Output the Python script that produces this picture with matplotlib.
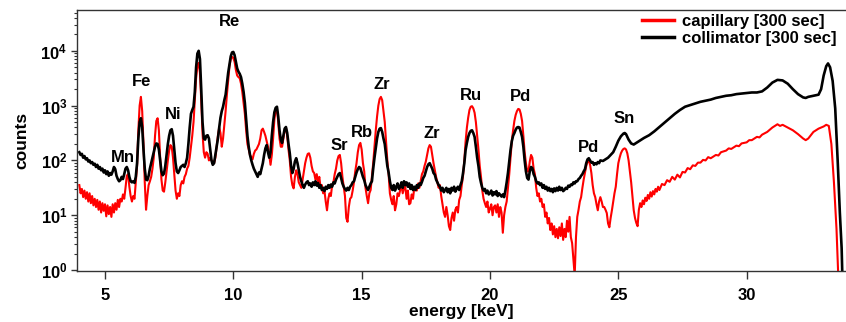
import numpy as np
import matplotlib
matplotlib.use("Agg")
import matplotlib.pyplot as plt
from matplotlib import ticker

# spectra: (energy keV, log10 counts)
capillary = [
    (4.00, 1.55), (4.05, 1.40), (4.10, 1.48), (4.15, 1.33), (4.20, 1.45), (4.25, 1.30), (4.30, 1.42), (4.35, 1.25),
    (4.40, 1.40), (4.45, 1.22), (4.50, 1.35), (4.55, 1.18), (4.60, 1.30), (4.65, 1.15), (4.70, 1.28), (4.75, 1.10),
    (4.80, 1.25), (4.85, 1.05), (4.90, 1.22), (4.95, 1.08), (5.00, 1.20), (5.05, 0.98), (5.10, 1.18), (5.15, 1.02),
    (5.20, 1.15), (5.25, 0.97), (5.30, 1.20), (5.35, 1.05), (5.40, 1.22), (5.45, 1.10), (5.50, 1.28), (5.55, 1.15),
    (5.60, 1.30), (5.65, 1.25), (5.70, 1.38), (5.75, 1.30), (5.80, 1.50), (5.85, 1.72), (5.90, 1.75), (5.95, 1.52),
    (6.00, 1.35), (6.05, 1.25), (6.10, 1.35), (6.15, 1.30), (6.20, 1.60), (6.25, 1.90), (6.30, 2.55), (6.35, 3.00),
    (6.40, 3.16), (6.45, 2.90), (6.50, 2.30), (6.55, 1.60), (6.60, 1.10), (6.65, 1.35), (6.70, 1.55), (6.75, 1.62),
    (6.80, 1.70), (6.85, 1.85), (6.90, 2.05), (6.95, 2.45), (7.00, 2.72), (7.05, 2.77), (7.10, 2.55), (7.15, 2.05),
    (7.20, 1.65), (7.25, 1.45), (7.30, 1.43), (7.35, 1.60), (7.40, 1.80), (7.45, 2.00), (7.50, 2.18), (7.55, 2.28),
    (7.60, 2.25), (7.65, 2.05), (7.70, 1.75), (7.75, 1.45), (7.80, 1.30), (7.85, 1.40), (7.90, 1.35), (7.95, 1.55),
    (8.00, 1.62), (8.05, 1.58), (8.10, 1.70), (8.15, 1.75), (8.20, 1.85), (8.25, 1.90), (8.30, 2.05), (8.35, 2.25),
    (8.40, 2.45), (8.45, 2.70), (8.50, 3.10), (8.55, 3.50), (8.60, 3.72), (8.65, 3.78), (8.70, 3.60), (8.75, 3.10),
    (8.80, 2.50), (8.85, 2.15), (8.90, 2.05), (8.95, 2.15), (9.00, 2.12), (9.05, 2.00), (9.10, 2.05), (9.15, 2.00),
    (9.20, 1.98), (9.25, 1.95), (9.30, 2.05), (9.35, 2.25), (9.40, 2.45), (9.45, 2.60), (9.50, 2.50), (9.55, 2.25),
    (9.60, 2.40), (9.65, 2.65), (9.70, 2.90), (9.75, 3.20), (9.80, 3.45), (9.85, 3.72), (9.90, 3.85), (9.95, 3.89),
    (10.00, 3.87), (10.05, 3.80), (10.10, 3.65), (10.15, 3.55), (10.20, 3.52), (10.25, 3.50), (10.30, 3.40),
    (10.35, 3.25), (10.40, 3.05), (10.45, 2.85), (10.50, 2.55), (10.55, 2.30), (10.60, 2.20), (10.65, 2.10),
    (10.70, 2.06), (10.75, 2.02), (10.80, 2.12), (10.85, 2.18), (10.90, 2.20), (10.95, 2.25), (11.00, 2.30),
    (11.05, 2.40), (11.10, 2.55), (11.15, 2.58), (11.20, 2.52), (11.25, 2.45), (11.30, 2.35), (11.35, 2.25),
    (11.40, 2.10), (11.45, 1.92), (11.50, 2.10), (11.55, 2.40), (11.60, 2.75), (11.65, 2.92), (11.70, 2.95),
    (11.75, 2.70), (11.80, 2.40), (11.85, 2.25), (11.90, 2.25), (11.95, 2.40), (12.00, 2.55), (12.05, 2.60),
    (12.10, 2.45), (12.15, 2.20), (12.20, 2.00), (12.25, 1.70), (12.30, 1.55), (12.35, 1.49), (12.40, 1.70),
    (12.45, 1.82), (12.50, 1.75), (12.55, 1.60), (12.60, 1.55), (12.65, 1.50), (12.70, 1.65), (12.75, 1.80),
    (12.80, 1.95), (12.85, 2.05), (12.90, 2.12), (12.95, 2.13), (13.00, 2.05), (13.05, 1.90), (13.10, 1.80),
    (13.15, 1.77), (13.20, 1.65), (13.25, 1.75), (13.30, 1.60), (13.35, 1.70), (13.40, 1.50), (13.45, 1.55),
    (13.50, 1.40), (13.55, 1.45), (13.60, 1.25), (13.65, 1.09), (13.70, 1.30), (13.75, 1.40), (13.80, 1.35),
    (13.85, 1.55), (13.90, 1.60), (13.95, 1.75), (14.00, 1.85), (14.05, 2.00), (14.10, 2.08), (14.15, 2.10),
    (14.20, 1.95), (14.25, 1.70), (14.30, 1.52), (14.35, 1.35), (14.40, 0.95), (14.45, 0.88), (14.50, 1.15),
    (14.55, 1.30), (14.60, 1.33), (14.65, 1.45), (14.70, 1.60), (14.75, 1.80), (14.80, 1.95), (14.85, 2.15),
    (14.90, 2.28), (14.95, 2.32), (15.00, 2.20), (15.05, 1.95), (15.10, 1.80), (15.15, 1.50), (15.20, 1.35),
    (15.25, 1.22), (15.30, 1.40), (15.35, 1.46), (15.40, 1.70), (15.45, 1.95), (15.50, 2.25), (15.55, 2.55),
    (15.60, 2.80), (15.65, 3.00), (15.70, 3.12), (15.75, 3.16), (15.80, 3.10), (15.85, 2.90), (15.90, 2.70),
    (15.95, 2.35), (16.00, 2.00), (16.05, 1.75), (16.10, 1.40), (16.15, 1.28), (16.20, 1.20), (16.25, 1.35),
    (16.30, 1.09), (16.35, 1.20), (16.40, 1.40), (16.45, 1.35), (16.50, 1.46), (16.55, 1.55), (16.60, 1.40),
    (16.65, 1.50), (16.70, 1.52), (16.75, 1.30), (16.80, 1.45), (16.85, 1.20), (16.90, 1.22), (16.95, 1.38),
    (17.00, 1.30), (17.05, 1.50), (17.10, 1.46), (17.15, 1.45), (17.20, 1.58), (17.25, 1.50), (17.30, 1.62),
    (17.35, 1.75), (17.40, 1.80), (17.45, 1.90), (17.50, 1.98), (17.55, 2.10), (17.60, 2.22), (17.65, 2.28),
    (17.70, 2.25), (17.75, 2.10), (17.80, 1.95), (17.85, 1.82), (17.90, 1.70), (17.95, 1.60), (18.00, 1.50),
    (18.05, 1.55), (18.10, 1.35), (18.15, 1.20), (18.20, 1.05), (18.25, 0.97), (18.30, 1.15), (18.35, 1.00),
    (18.40, 0.80), (18.45, 0.73), (18.50, 0.95), (18.55, 1.05), (18.60, 0.90), (18.65, 1.10), (18.70, 1.15),
    (18.75, 1.05), (18.80, 1.28), (18.85, 1.35), (18.90, 1.55), (18.95, 1.72), (19.00, 2.00), (19.05, 2.35),
    (19.10, 2.60), (19.15, 2.78), (19.20, 2.92), (19.25, 2.98), (19.30, 2.99), (19.35, 2.95), (19.40, 2.87),
    (19.45, 2.70), (19.50, 2.45), (19.55, 2.20), (19.60, 1.90), (19.65, 1.70), (19.70, 1.45), (19.75, 1.30),
    (19.80, 1.22), (19.85, 1.15), (19.90, 1.25), (19.95, 1.05), (20.00, 1.12), (20.05, 1.20), (20.10, 1.00),
    (20.15, 1.15), (20.20, 1.18), (20.25, 1.05), (20.30, 1.20), (20.35, 0.97), (20.40, 1.15), (20.45, 1.05),
    (20.50, 0.68), (20.55, 1.00), (20.60, 1.15), (20.65, 1.25), (20.70, 1.50), (20.75, 1.75), (20.80, 2.05),
    (20.85, 2.35), (20.90, 2.55), (20.95, 2.72), (21.00, 2.83), (21.05, 2.90), (21.10, 2.94), (21.15, 2.93),
    (21.20, 2.85), (21.25, 2.72), (21.30, 2.45), (21.35, 2.15), (21.40, 1.95), (21.45, 1.80), (21.50, 1.80),
    (21.55, 1.98), (21.60, 2.10), (21.65, 2.05), (21.70, 1.85), (21.75, 1.75), (21.80, 1.50), (21.85, 1.35),
    (21.90, 1.40), (21.95, 1.25), (22.00, 1.30), (22.05, 1.15), (22.10, 1.20), (22.15, 0.97), (22.20, 1.05),
    (22.25, 0.85), (22.30, 0.95), (22.35, 0.73), (22.40, 0.85), (22.45, 0.65), (22.50, 0.80), (22.55, 0.60),
    (22.60, 0.75), (22.65, 0.58), (22.70, 0.78), (22.75, 0.62), (22.80, 0.85), (22.85, 0.55), (22.90, 0.75),
    (22.95, 0.60), (23.00, 0.90), (23.05, 0.70), (23.10, 0.97), (23.15, 0.60), (23.20, 0.49), (23.25, 0.20),
    (23.30, -0.10), (23.35, 0.60), (23.40, 0.97), (23.45, 1.10), (23.50, 1.25), (23.55, 1.33), (23.60, 1.50),
    (23.65, 1.65), (23.70, 1.77), (23.75, 1.90), (23.80, 1.98), (23.85, 2.00), (23.90, 1.92), (23.95, 1.77),
    (24.00, 1.55), (24.05, 1.40), (24.10, 1.33), (24.15, 1.20), (24.20, 1.09), (24.25, 1.25), (24.30, 1.33),
    (24.35, 1.25), (24.40, 1.15), (24.45, 1.15), (24.50, 1.10), (24.55, 1.04), (24.60, 0.85), (24.65, 0.78),
    (24.70, 0.95), (24.75, 1.09), (24.80, 1.25), (24.85, 1.40), (24.90, 1.52), (24.95, 1.75), (25.00, 1.95),
    (25.05, 2.05), (25.10, 2.13), (25.15, 2.18), (25.20, 2.21), (25.25, 2.22), (25.30, 2.20), (25.35, 2.13),
    (25.40, 2.00), (25.45, 1.80), (25.50, 1.60), (25.55, 1.35), (25.60, 1.09), (25.65, 0.95), (25.70, 0.86),
    (25.75, 0.80), (25.80, 1.10), (25.85, 1.22), (25.90, 1.15), (25.95, 1.27), (26.00, 1.20), (26.05, 1.32),
    (26.10, 1.26), (26.15, 1.37), (26.20, 1.30), (26.25, 1.42), (26.30, 1.34), (26.35, 1.44), (26.40, 1.38),
    (26.45, 1.48), (26.50, 1.43), (26.55, 1.52), (26.60, 1.46), (26.70, 1.57), (26.80, 1.55), (26.90, 1.64),
    (27.00, 1.61), (27.10, 1.70), (27.20, 1.65), (27.30, 1.74), (27.40, 1.69), (27.50, 1.79), (27.60, 1.78),
    (27.70, 1.86), (27.80, 1.84), (27.90, 1.91), (28.00, 1.90), (28.10, 1.96), (28.20, 1.96), (28.30, 2.01),
    (28.40, 2.00), (28.50, 2.06), (28.60, 2.04), (28.80, 2.10), (28.90, 2.09), (29.00, 2.15), (29.20, 2.18),
    (29.30, 2.22), (29.40, 2.21), (29.60, 2.27), (29.70, 2.26), (29.80, 2.31), (30.00, 2.33), (30.10, 2.37),
    (30.20, 2.37), (30.40, 2.43), (30.50, 2.42), (30.60, 2.47), (30.80, 2.52), (31.00, 2.60), (31.20, 2.66),
    (31.30, 2.63), (31.40, 2.65), (31.60, 2.60), (31.80, 2.55), (32.00, 2.48), (32.20, 2.40), (32.30, 2.37),
    (32.40, 2.40), (32.60, 2.52), (32.80, 2.58), (33.00, 2.62), (33.10, 2.65), (33.20, 2.63), (33.30, 2.30),
    (33.40, 1.60), (33.50, 0.75), (33.60, -0.50),
]

collimator = [
    (4.00, 2.15), (4.05, 2.10), (4.10, 2.12), (4.15, 2.05), (4.20, 2.08), (4.25, 2.02), (4.30, 2.04), (4.35, 1.98),
    (4.40, 2.00), (4.45, 1.95), (4.50, 1.97), (4.55, 1.92), (4.60, 1.94), (4.65, 1.88), (4.70, 1.92), (4.75, 1.85),
    (4.80, 1.88), (4.85, 1.82), (4.90, 1.85), (4.95, 1.78), (5.00, 1.82), (5.05, 1.75), (5.10, 1.80), (5.15, 1.72),
    (5.20, 1.77), (5.25, 1.74), (5.30, 1.80), (5.35, 1.88), (5.40, 1.84), (5.45, 1.72), (5.50, 1.66), (5.55, 1.62),
    (5.60, 1.64), (5.65, 1.70), (5.70, 1.66), (5.75, 1.75), (5.80, 1.85), (5.85, 1.88), (5.90, 1.82), (5.95, 1.70),
    (6.00, 1.62), (6.05, 1.60), (6.10, 1.62), (6.15, 1.59), (6.20, 1.70), (6.25, 1.95), (6.30, 2.40), (6.35, 2.70),
    (6.40, 2.77), (6.45, 2.60), (6.50, 2.20), (6.55, 1.85), (6.60, 1.65), (6.65, 1.64), (6.70, 1.72), (6.75, 1.85),
    (6.80, 1.95), (6.85, 2.05), (6.90, 2.15), (6.95, 2.25), (7.00, 2.31), (7.05, 2.30), (7.10, 2.20), (7.15, 2.00),
    (7.20, 1.80), (7.25, 1.73), (7.30, 1.76), (7.35, 1.90), (7.40, 2.10), (7.45, 2.30), (7.50, 2.45), (7.55, 2.55),
    (7.60, 2.57), (7.65, 2.45), (7.70, 2.20), (7.75, 1.95), (7.80, 1.80), (7.85, 1.77), (7.90, 1.82), (7.95, 1.88),
    (8.00, 1.90), (8.05, 1.92), (8.10, 1.88), (8.15, 1.95), (8.20, 2.05), (8.25, 2.30), (8.30, 2.60), (8.35, 2.85),
    (8.40, 2.92), (8.45, 2.98), (8.50, 3.25), (8.55, 3.70), (8.60, 3.95), (8.65, 4.00), (8.70, 3.85), (8.75, 3.30),
    (8.80, 2.70), (8.85, 2.40), (8.90, 2.38), (8.95, 2.45), (9.00, 2.46), (9.05, 2.40), (9.10, 2.20), (9.15, 2.00),
    (9.20, 1.92), (9.25, 1.95), (9.30, 2.10), (9.35, 2.25), (9.40, 2.40), (9.45, 2.60), (9.50, 2.78), (9.55, 2.90),
    (9.60, 2.98), (9.65, 3.10), (9.70, 3.20), (9.75, 3.40), (9.80, 3.60), (9.85, 3.75), (9.90, 3.90), (9.95, 3.97),
    (10.00, 3.98), (10.05, 3.92), (10.10, 3.80), (10.15, 3.68), (10.20, 3.62), (10.25, 3.58), (10.30, 3.52),
    (10.35, 3.40), (10.40, 3.25), (10.45, 3.05), (10.50, 2.75), (10.55, 2.45), (10.60, 2.25), (10.65, 2.10),
    (10.70, 2.00), (10.75, 1.92), (10.80, 1.85), (10.85, 1.80), (10.90, 1.75), (10.95, 1.70), (11.00, 1.78),
    (11.05, 1.75), (11.10, 1.85), (11.15, 1.95), (11.20, 2.10), (11.25, 2.22), (11.30, 2.28), (11.35, 2.15),
    (11.40, 2.05), (11.45, 2.15), (11.50, 2.45), (11.55, 2.70), (11.60, 2.88), (11.65, 2.96), (11.70, 2.98),
    (11.75, 2.80), (11.80, 2.55), (11.85, 2.38), (11.90, 2.32), (11.95, 2.45), (12.00, 2.58), (12.05, 2.61),
    (12.10, 2.50), (12.15, 2.30), (12.20, 2.13), (12.25, 1.90), (12.30, 1.77), (12.35, 1.85), (12.40, 1.98),
    (12.45, 2.04), (12.50, 1.95), (12.55, 1.82), (12.60, 1.70), (12.65, 1.62), (12.70, 1.55), (12.75, 1.50),
    (12.80, 1.56), (12.85, 1.60), (12.90, 1.62), (12.95, 1.55), (13.00, 1.58), (13.05, 1.52), (13.10, 1.60),
    (13.15, 1.55), (13.20, 1.62), (13.25, 1.54), (13.30, 1.59), (13.35, 1.50), (13.40, 1.55), (13.45, 1.46),
    (13.50, 1.50), (13.55, 1.44), (13.60, 1.52), (13.65, 1.48), (13.70, 1.55), (13.75, 1.50), (13.80, 1.56),
    (13.85, 1.52), (13.90, 1.60), (13.95, 1.58), (14.00, 1.65), (14.05, 1.70), (14.10, 1.75), (14.15, 1.77),
    (14.20, 1.68), (14.25, 1.58), (14.30, 1.52), (14.35, 1.48), (14.40, 1.45), (14.45, 1.50), (14.50, 1.46),
    (14.55, 1.52), (14.60, 1.55), (14.65, 1.60), (14.70, 1.62), (14.75, 1.70), (14.80, 1.78), (14.85, 1.84),
    (14.90, 1.88), (14.95, 1.86), (15.00, 1.78), (15.05, 1.70), (15.10, 1.64), (15.15, 1.55), (15.20, 1.50),
    (15.25, 1.46), (15.30, 1.52), (15.35, 1.58), (15.40, 1.62), (15.45, 1.85), (15.50, 2.05), (15.55, 2.22),
    (15.60, 2.40), (15.65, 2.52), (15.70, 2.58), (15.75, 2.59), (15.80, 2.52), (15.85, 2.40), (15.90, 2.30),
    (15.95, 2.10), (16.00, 1.90), (16.05, 1.78), (16.10, 1.62), (16.15, 1.50), (16.20, 1.46), (16.25, 1.55),
    (16.30, 1.45), (16.35, 1.52), (16.40, 1.58), (16.45, 1.48), (16.50, 1.52), (16.55, 1.60), (16.60, 1.50),
    (16.65, 1.62), (16.70, 1.55), (16.75, 1.60), (16.80, 1.52), (16.85, 1.58), (16.90, 1.48), (16.95, 1.55),
    (17.00, 1.46), (17.05, 1.52), (17.10, 1.46), (17.15, 1.55), (17.20, 1.50), (17.25, 1.58), (17.30, 1.55),
    (17.35, 1.61), (17.40, 1.68), (17.45, 1.72), (17.50, 1.80), (17.55, 1.88), (17.60, 1.93), (17.65, 1.95),
    (17.70, 1.90), (17.75, 1.85), (17.80, 1.77), (17.85, 1.74), (17.90, 1.65), (17.95, 1.60), (18.00, 1.55),
    (18.05, 1.52), (18.10, 1.45), (18.15, 1.50), (18.20, 1.42), (18.25, 1.46), (18.30, 1.50), (18.35, 1.42),
    (18.40, 1.48), (18.45, 1.40), (18.50, 1.50), (18.55, 1.45), (18.60, 1.52), (18.65, 1.43), (18.70, 1.48),
    (18.75, 1.52), (18.80, 1.46), (18.85, 1.55), (18.90, 1.62), (18.95, 1.77), (19.00, 1.95), (19.05, 2.19),
    (19.10, 2.32), (19.15, 2.43), (19.20, 2.50), (19.25, 2.54), (19.30, 2.55), (19.35, 2.50), (19.40, 2.43),
    (19.45, 2.25), (19.50, 2.05), (19.55, 1.90), (19.60, 1.70), (19.65, 1.59), (19.70, 1.50), (19.75, 1.45),
    (19.80, 1.48), (19.85, 1.40), (19.90, 1.45), (19.95, 1.38), (20.00, 1.40), (20.05, 1.45), (20.10, 1.36),
    (20.15, 1.42), (20.20, 1.38), (20.25, 1.44), (20.30, 1.35), (20.35, 1.40), (20.40, 1.37), (20.45, 1.34),
    (20.50, 1.38), (20.55, 1.33), (20.60, 1.45), (20.65, 1.60), (20.70, 1.77), (20.75, 1.98), (20.80, 2.19),
    (20.85, 2.35), (20.90, 2.45), (20.95, 2.50), (21.00, 2.56), (21.05, 2.60), (21.10, 2.61), (21.15, 2.60),
    (21.20, 2.52), (21.25, 2.43), (21.30, 2.25), (21.35, 2.00), (21.40, 1.80), (21.45, 1.68), (21.50, 1.65),
    (21.55, 1.80), (21.60, 1.88), (21.65, 1.86), (21.70, 1.75), (21.75, 1.70), (21.80, 1.62), (21.85, 1.58),
    (21.90, 1.60), (21.95, 1.55), (22.00, 1.58), (22.05, 1.50), (22.10, 1.55), (22.15, 1.48), (22.20, 1.52),
    (22.25, 1.45), (22.30, 1.50), (22.35, 1.44), (22.40, 1.48), (22.45, 1.42), (22.50, 1.49), (22.55, 1.44),
    (22.60, 1.50), (22.65, 1.45), (22.70, 1.52), (22.75, 1.46), (22.80, 1.50), (22.85, 1.44), (22.90, 1.46),
    (22.95, 1.50), (23.00, 1.48), (23.05, 1.54), (23.10, 1.52), (23.15, 1.56), (23.20, 1.55), (23.25, 1.60),
    (23.30, 1.58), (23.35, 1.62), (23.40, 1.62), (23.45, 1.66), (23.50, 1.68), (23.55, 1.72), (23.60, 1.75),
    (23.65, 1.80), (23.70, 1.84), (23.75, 1.95), (23.80, 2.02), (23.85, 2.04), (23.90, 2.00), (23.95, 1.96),
    (24.00, 1.97), (24.05, 1.92), (24.10, 1.95), (24.15, 1.93), (24.20, 1.97), (24.25, 1.95), (24.30, 2.00),
    (24.40, 1.99), (24.50, 2.02), (24.60, 2.05), (24.70, 2.10), (24.80, 2.15), (24.90, 2.25), (25.00, 2.36),
    (25.10, 2.44), (25.20, 2.49), (25.25, 2.50), (25.30, 2.48), (25.40, 2.38), (25.50, 2.31), (25.60, 2.29),
    (25.70, 2.32), (25.80, 2.35), (25.90, 2.38), (26.00, 2.41), (26.20, 2.46), (26.40, 2.53), (26.60, 2.61),
    (26.80, 2.69), (27.00, 2.77), (27.20, 2.85), (27.40, 2.92), (27.60, 2.98), (27.80, 3.01), (28.00, 3.04),
    (28.20, 3.07), (28.40, 3.09), (28.60, 3.11), (28.80, 3.14), (29.00, 3.16), (29.20, 3.18), (29.40, 3.19),
    (29.60, 3.21), (29.80, 3.22), (30.00, 3.23), (30.20, 3.24), (30.40, 3.24), (30.60, 3.26), (30.80, 3.33),
    (31.00, 3.42), (31.20, 3.47), (31.40, 3.46), (31.60, 3.40), (31.80, 3.30), (32.00, 3.21), (32.20, 3.15),
    (32.30, 3.14), (32.40, 3.16), (32.60, 3.18), (32.80, 3.20), (32.90, 3.30), (33.00, 3.55), (33.10, 3.72),
    (33.17, 3.77), (33.25, 3.70), (33.35, 3.45), (33.45, 2.95), (33.55, 1.95), (33.63, 1.05), (33.70, 0.40),
    (33.75, -0.50),
]

# peak labels: (text, energy keV, counts at label centre)
peak_labels = [
    ("Mn", 5.70, 115), ("Fe", 6.44, 2700), ("Ni", 7.65, 680), ("Re", 9.87, 34000),
    ("Sr", 14.15, 190), ("Rb", 15.01, 330), ("Zr", 15.79, 2400), ("Zr", 17.74, 310),
    ("Ru", 19.26, 1550), ("Pd", 21.20, 1450), ("Pd", 23.82, 175), ("Sn", 25.22, 575),
]

plt.rcParams['font.family'] = ['Liberation Sans', 'DejaVu Sans']
plt.rcParams['font.weight'] = 'bold'
plt.rcParams['mathtext.fontset'] = 'custom'
plt.rcParams['mathtext.rm'] = 'Liberation Sans:bold'
plt.rcParams['mathtext.it'] = 'Liberation Sans:bold'
plt.rcParams['mathtext.bf'] = 'Liberation Sans:bold'
plt.rcParams['mathtext.sf'] = 'Liberation Sans:bold'

cap_e, cap_lc = np.array(capillary).T
col_e, col_lc = np.array(collimator).T

fig = plt.figure(figsize=(8.46, 3.22), dpi=100)
ax = fig.add_axes([77/846, 51/322, 1 - 77/846, 261/322])

ax.plot(cap_e, 10**cap_lc, color='#ff0000', lw=1.5, label='capillary [300 sec]')
ax.plot(col_e, 10**col_lc, color='black', lw=1.9, label='collimator [300 sec]')

ax.set_yscale('log')
ax.set_xlim(3.91, 33.87)
ax.set_ylim(0.96, 5.56e4)

ax.xaxis.set_major_locator(ticker.MultipleLocator(5))
ax.yaxis.set_major_locator(ticker.LogLocator(base=10, numticks=10))
ax.yaxis.set_minor_locator(ticker.LogLocator(base=10, subs=np.arange(2, 10), numticks=10))
ax.yaxis.set_minor_formatter(ticker.NullFormatter())

for s in ['left', 'bottom', 'top']:
    ax.spines[s].set_color('#333333')
    ax.spines[s].set_linewidth(1.0)
ax.spines['right'].set_visible(False)

ax.tick_params(axis='x', which='major', length=6, width=1, colors='#333333', labelcolor='black', labelsize=12, pad=6)
ax.tick_params(axis='y', which='major', length=4, width=1, colors='#333333', labelcolor='black', labelsize=12, pad=3)
ax.tick_params(axis='y', which='minor', length=2.5, width=0.8, colors='#333333')

ax.set_xlabel('energy [keV]', fontsize=12.5, fontweight='bold', labelpad=1)
ax.set_ylabel('counts', fontsize=12.5, fontweight='bold', labelpad=8)

for txt, e, c in peak_labels:
    ax.text(e, c, txt, ha='center', va='center', fontsize=12, fontweight='bold')

leg = ax.legend(loc='upper left', bbox_to_anchor=(642/846, 1 - 14/322), bbox_transform=fig.transFigure,
                frameon=False, fontsize=12, handlelength=1.9, handletextpad=0.5, borderpad=0,
                borderaxespad=0, labelspacing=0.1)
for line in leg.get_lines():
    line.set_linewidth(2.5)

fig.savefig('out.png', dpi=100)
